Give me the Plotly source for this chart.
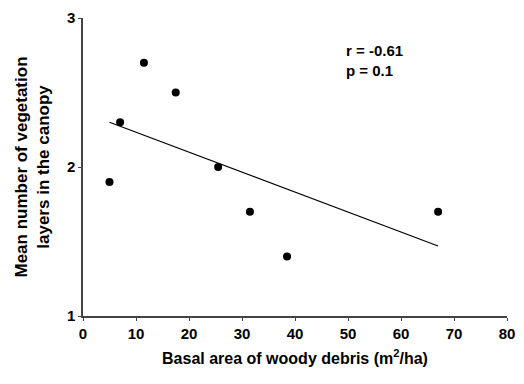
import plotly.graph_objects as go

# Data
basal_area = [5, 7, 11.5, 17.5, 25.5, 31.5, 38.5, 67]
veg_layers = [1.9, 2.3, 2.7, 2.5, 2.0, 1.7, 1.4, 1.7]
fit_x = [5, 67]
fit_y = [2.30, 1.47]
x_ticks = [0, 10, 20, 30, 40, 50, 60, 70, 80]
y_ticks = [1, 2, 3]

FONT = "Liberation Sans, Arial, sans-serif"

fig = go.Figure()
fig.add_trace(go.Scatter(x=fit_x, y=fit_y, mode="lines",
                         line=dict(color="black", width=1.2), showlegend=False))
fig.add_trace(go.Scatter(x=basal_area, y=veg_layers, mode="markers",
                         marker=dict(color="black", size=8), showlegend=False))

fig.add_annotation(x=49.3, y=2.58, xref="x", yref="y", xanchor="left", yanchor="bottom",
                   text="<b>r = -0.61<br>p = 0.1</b>", showarrow=False, align="left",
                   font=dict(family=FONT, size=15, color="black"))

fig.update_layout(
    width=524, height=384,
    margin=dict(l=83, r=9, t=16, b=68),
    paper_bgcolor="white", plot_bgcolor="white",
    font=dict(family=FONT, size=14, color="black"),
    xaxis=dict(range=[0, 80], tickvals=x_ticks,
               ticktext=[f"<b>{v}</b>" for v in x_ticks],
               tickfont=dict(family=FONT, size=15),
               showgrid=False, zeroline=False, showline=True, linecolor="#444", linewidth=1.5,
               ticks="outside", ticklen=3, tickcolor="#444",
               title=dict(text="<b>Basal area of woody debris (m<sup>2</sup>/ha)</b>",
                          font=dict(family=FONT, size=16), standoff=12)),
    yaxis=dict(range=[1, 3], tickvals=y_ticks,
               ticktext=[f"<b>{v}</b>" for v in y_ticks],
               tickfont=dict(family=FONT, size=15),
               showgrid=False, zeroline=False, showline=True, linecolor="#444", linewidth=1.5,
               ticks="outside", ticklen=3, tickcolor="#444",
               title=dict(text="<b>Mean number of vegetation<br>layers in the canopy</b>",
                          font=dict(family=FONT, size=17), standoff=13)),
)

fig.write_html("out.html")
